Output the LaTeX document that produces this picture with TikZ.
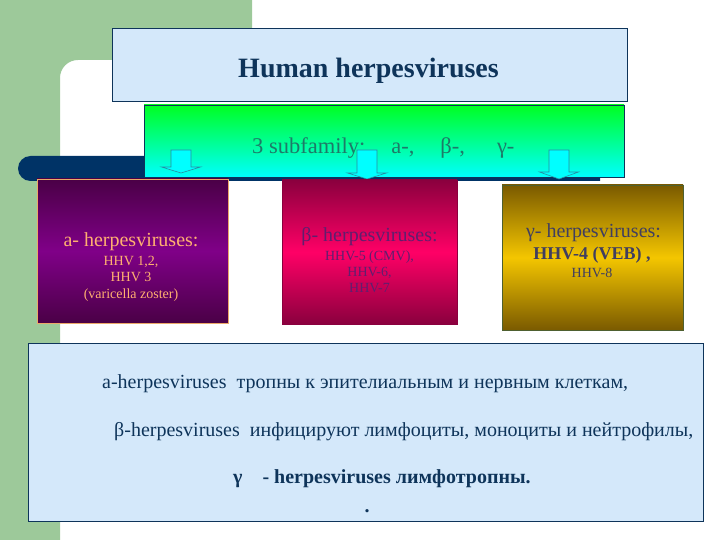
\documentclass[tikz,border=0pt]{standalone}
\usepackage{fontspec}
\setmainfont{Liberation Serif}
\definecolor{sage}{RGB}{157,201,154}
\definecolor{paleblue}{RGB}{212,232,250}
\definecolor{navy}{RGB}{0,51,102}
\definecolor{inkblue}{RGB}{14,52,90}
\definecolor{subink}{RGB}{30,122,104}
\definecolor{lightgreen}{RGB}{0,255,34}
\definecolor{aqua}{RGB}{0,255,255}
\definecolor{arrowedge}{RGB}{40,140,160}
\definecolor{alphadark}{RGB}{74,0,70}
\definecolor{alphamid}{RGB}{128,0,136}
\definecolor{alphaedge}{RGB}{236,168,104}
\definecolor{alphaink}{RGB}{255,176,112}
\definecolor{betadark}{RGB}{138,0,62}
\definecolor{betamid}{RGB}{255,0,102}
\definecolor{betaink}{RGB}{96,30,110}
\definecolor{gammadark}{RGB}{122,90,0}
\definecolor{gammamid}{RGB}{244,198,0}
\definecolor{gammaedge}{RGB}{78,96,48}
\definecolor{gammaink}{RGB}{64,62,96}

\begin{document}
\begin{tikzpicture}[x=1pt,y=-1pt,
  panel/.style={draw=inkblue,line width=0.8pt,fill=paleblue,inner sep=0pt},
  family/.style={inner sep=0pt,line width=0.6pt},
  downarrow/.style={fill=aqua,draw=arrowedge,line width=0.6pt},
  headtxt/.style={inner sep=0pt,anchor=base,font=\fontsize{20}{22}\selectfont},
  listtxt/.style={inner sep=0pt,anchor=base,align=center,font=\fontsize{14}{16.5}\selectfont},
  notetxt/.style={inner sep=0pt,anchor=base west,text=inkblue,font=\fontsize{20}{24}\selectfont}]
\useasboundingbox (0,0) rectangle (720,540);
% background
\fill[sage] (0,0) -- (252,0) -- (252,60) -- (78,60) .. controls (68,60) and (60,68) .. (60,78) -- (60,540) -- (0,540) -- cycle;
\fill[navy] (600,156) -- (30.5,156) .. controls (23.6,156) and (18,161.6) .. (18,168.5) .. controls (18,175.4) and (23.6,181) .. (30.5,181) -- (600,181) -- cycle;
% title
\node[panel,minimum width=515pt,minimum height=73pt] (title) at (369.5,64.5) {};
\node[inner sep=0pt,anchor=base,text=inkblue,font=\fontsize{28}{30}\selectfont\bfseries] (titletxt) at (368.5,78) {Human herpesviruses};
% subfamilies
\node[family,draw=inkblue,top color=lightgreen,bottom color=aqua,minimum width=480pt,minimum height=72pt] (subfam) at (384,141) {};
\node[inner sep=0pt,anchor=base west,text=subink,font=\fontsize{22.5}{24}\selectfont] (subtxt) at (252,154) {3 subfamily:\hspace{26pt}a-,\hspace{26pt}β-,\hspace{32pt}γ-};
\foreach \cx/\hb/\tip in {181/167/173, 367/173/179, 559/172/179}
  \draw[downarrow] ({\cx-10},150) -- ({\cx+10},150) -- ({\cx+10},\hb) -- ({\cx+19.5},\hb) -- (\cx,\tip) -- ({\cx-19.5},\hb) -- ({\cx-10},\hb) -- cycle;
% alpha
\node[family,draw=alphaedge,top color=alphadark,bottom color=alphadark,middle color=alphamid,minimum width=191pt,minimum height=144pt] (alpha) at (132.5,251) {};
\node[headtxt,text=alphaink] (alphahead) at (131,246) {a- herpesviruses:};
\node[listtxt,text=alphaink] (alphalist) at (131,298) {HHV 1,2,\\HHV 3\\(varicella zoster)};
% beta
\node[family,draw=betadark,top color=betadark,bottom color=betadark,middle color=betamid,minimum width=175pt,minimum height=144pt] (beta) at (369.5,252) {};
\node[headtxt,text=betaink] (betahead) at (369.5,241) {β- herpesviruses:};
\node[listtxt,text=betaink,font=\fontsize{14}{16}\selectfont] (betalist) at (369.5,292) {HHV-5 (CMV),\\HHV-6,\\HHV-7};
% gamma
\node[family,draw=gammaedge,top color=gammadark,bottom color=gammadark,middle color=gammamid,minimum width=181pt,minimum height=145pt] (gamma) at (592.5,257.5) {};
\node[headtxt,text=gammaink] (gammahead) at (593.5,237) {γ- herpesviruses:};
\node[headtxt,text=gammaink,font=\fontsize{18}{20}\selectfont\bfseries] (gammabold) at (592,259) {HHV-4 (VEB) ,};
\node[listtxt,text=gammaink] (gammalist) at (592,277) {HHV-8};
% notes
\node[panel,minimum width=675pt,minimum height=178pt] (notes) at (365.5,432) {};
\node[notetxt] (alphanote) at (102,388) {a-herpesviruses\ \ тропны к эпителиальным и нервным клеткам,};
\node[notetxt] (betanote) at (114,436) {β-herpesviruses\ \ инфицируют лимфоциты, моноциты и нейтрофилы,};
\node[notetxt,font=\fontsize{20}{24}\selectfont\bfseries] (gammanote) at (233,483) {γ\hspace{20pt}- herpesviruses лимфотропны.};
\node[notetxt,anchor=base,font=\fontsize{20}{24}\selectfont\bfseries] (dotnote) at (367,512) {.};
\end{tikzpicture}
\end{document}
